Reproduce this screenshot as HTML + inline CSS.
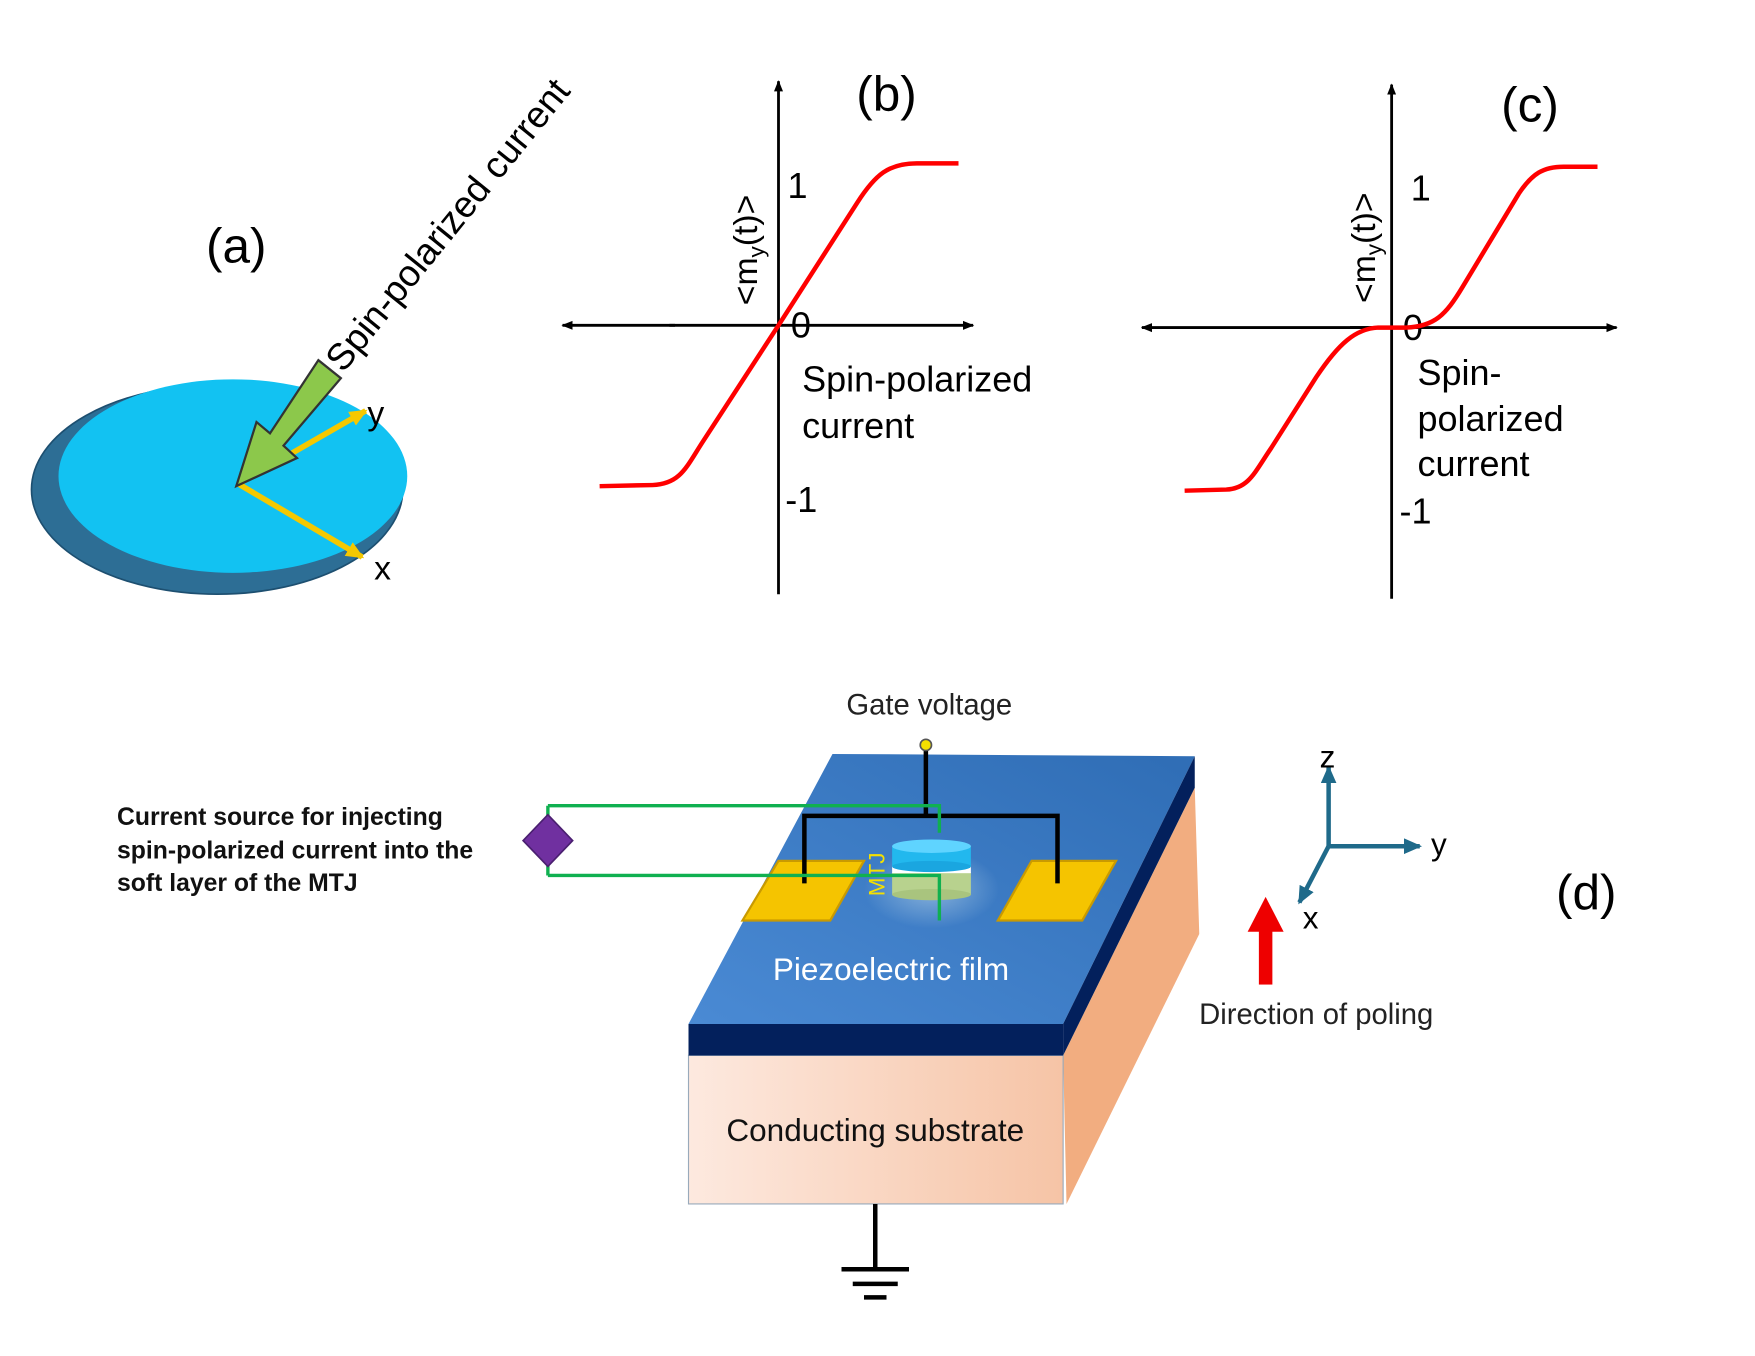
<!DOCTYPE html>
<html><head><meta charset="utf-8"><style>html,body{margin:0;padding:0;background:#fff}svg{display:block}</style></head>
<body>
<svg width="1755" height="1356" viewBox="0 0 1560 1205" xmlns="http://www.w3.org/2000/svg" font-family="Liberation Sans, sans-serif">
<defs>
<marker id="ak" markerWidth="10" markerHeight="10" refX="9" refY="5" orient="auto" markerUnits="userSpaceOnUse"><path d="M0,1 L10,5 L0,9 Z" fill="#000"/></marker>
<marker id="ay" markerWidth="16" markerHeight="14" refX="14" refY="7" orient="auto" markerUnits="userSpaceOnUse"><path d="M0,0 L16,7 L0,14 Z" fill="#f5c800"/></marker>
<marker id="at" markerWidth="16" markerHeight="14" refX="14" refY="7" orient="auto" markerUnits="userSpaceOnUse"><path d="M0,0 L16,7 L0,14 Z" fill="#1f6a8a"/></marker>
<linearGradient id="top" x1="0" y1="1" x2="1" y2="0"><stop offset="0" stop-color="#4a8ad4"/><stop offset="1" stop-color="#2f6db5"/></linearGradient>
<linearGradient id="front" x1="0" y1="0" x2="1" y2="0"><stop offset="0" stop-color="#fde9df"/><stop offset="1" stop-color="#f6c4a6"/></linearGradient>
<radialGradient id="glow"><stop offset="0" stop-color="#9cc0e0" stop-opacity="0.8"/><stop offset="1" stop-color="#9cc0e0" stop-opacity="0"/></radialGradient>
</defs>
<!-- (a) -->
<text x="210" y="233" font-size="44" text-anchor="middle">(a)</text>
<ellipse cx="193" cy="435" rx="165" ry="93" fill="#2d6e95" stroke="#1d4f70" stroke-width="1.5"/>
<ellipse cx="207" cy="423" rx="155" ry="86" fill="#12c2f2"/>
<line x1="212" y1="430" x2="325" y2="365" stroke="#f5c800" stroke-width="5" marker-end="url(#ay)"/>
<line x1="212" y1="430" x2="322" y2="495" stroke="#f5c800" stroke-width="5" marker-end="url(#ay)"/>
<text x="334" y="377" font-size="30" text-anchor="middle">y</text>
<text x="340" y="515" font-size="30" text-anchor="middle">x</text>
<path d="M283,320 L303,336 L252,396 L264,407 L210,432 L228,375 L240,385 Z" fill="#8cc84b" stroke="#333" stroke-width="2"/>
<text transform="translate(305,332) rotate(-51)" font-size="33">Spin-polarized  current</text>
<!-- (b) -->
<line x1="692" y1="528" x2="692" y2="72" stroke="#000" stroke-width="2.5" marker-end="url(#ak)"/>
<line x1="595" y1="289" x2="865" y2="289" stroke="#000" stroke-width="2.5" marker-end="url(#ak)"/>
<line x1="600" y1="289" x2="500" y2="289" stroke="#000" stroke-width="2.5" marker-end="url(#ak)"/>
<text x="788" y="98" font-size="44" text-anchor="middle">(b)</text>
<text x="700" y="176" font-size="32">1</text>
<text x="703" y="300" font-size="32">0</text>
<text x="698" y="455" font-size="32">-1</text>
<text transform="translate(673,222) rotate(-90)" font-size="30" text-anchor="middle">&lt;m<tspan font-size="20" dy="6">y</tspan><tspan dy="-6">(t)&gt;</tspan></text>
<text x="713" y="348" font-size="32">Spin-polarized</text>
<text x="713" y="389" font-size="32">current</text>
<path d="M533,432 L580,431 C605,430 610,415 625,392 L692,289 L762,180 C778,155 790,145 815,145 L852,145" fill="none" stroke="#f00" stroke-width="4"/>
<!-- (c) -->
<line x1="1237" y1="532" x2="1237" y2="75" stroke="#000" stroke-width="2.5" marker-end="url(#ak)"/>
<line x1="1200" y1="291" x2="1437" y2="291" stroke="#000" stroke-width="2.5" marker-end="url(#ak)"/>
<line x1="1240" y1="291" x2="1015" y2="291" stroke="#000" stroke-width="2.5" marker-end="url(#ak)"/>
<text x="1360" y="108" font-size="44" text-anchor="middle">(c)</text>
<text x="1254" y="178" font-size="32">1</text>
<text x="1247" y="302" font-size="32">0</text>
<text x="1244" y="465" font-size="32">-1</text>
<text transform="translate(1222,220) rotate(-90)" font-size="30" text-anchor="middle">&lt;m<tspan font-size="20" dy="6">y</tspan><tspan dy="-6">(t)&gt;</tspan></text>
<text x="1260" y="342" font-size="32">Spin-</text>
<text x="1260" y="383" font-size="32">polarized</text>
<text x="1260" y="423" font-size="32">current</text>
<path d="M1053,436 L1090,435 C1110,434 1115,420 1130,398 L1170,335 C1190,305 1205,292 1225,291 L1250,291 C1275,290 1285,280 1300,255 L1350,172 C1362,154 1372,148 1390,148 L1420,148" fill="none" stroke="#f00" stroke-width="4"/>
<!-- (d) -->
<text x="1410" y="808" font-size="44" text-anchor="middle">(d)</text>
<polygon points="612,910 740,670 1062,672 945,910" fill="url(#top)"/>
<polygon points="945,938 1062,700 1066,830 948,1070" fill="#f2ad80"/>
<polygon points="612,938 945,938 945,1070 612,1070" fill="url(#front)" stroke="#9ab" stroke-width="1"/>
<polygon points="612,910 945,910 945,938 612,938" fill="#03205c"/>
<polygon points="945,910 1062,672 1062,700 945,938" fill="#03205c"/>
<text x="792" y="871" font-size="28" fill="#fff" text-anchor="middle">Piezoelectric film</text>
<text x="778" y="1014" font-size="28" fill="#111" text-anchor="middle">Conducting substrate</text>
<text x="826" y="635" font-size="26" fill="#222" text-anchor="middle">Gate voltage</text>
<ellipse cx="828" cy="790" rx="60" ry="35" fill="url(#glow)"/>
<polygon points="692,765 768,765 738,818 660,818" fill="#f5c400" stroke="#c99a00" stroke-width="2"/>
<polygon points="917,765 992,765 962,818 887,818" fill="#f5c400" stroke="#c99a00" stroke-width="2"/>
<rect x="793" y="775" width="70" height="20" fill="#b8d28e"/>
<ellipse cx="828" cy="795" rx="35" ry="5" fill="#a9c47e"/>
<rect x="793" y="770" width="70" height="6" fill="#fff"/>
<rect x="793" y="752" width="70" height="18" fill="#22b8ee"/>
<ellipse cx="828" cy="770" rx="35" ry="5" fill="#1aa6e0"/>
<ellipse cx="828" cy="752" rx="35" ry="6" fill="#5fd4ff"/>
<text transform="translate(786,777) rotate(-90)" font-size="20" fill="#f5e000" text-anchor="middle">MTJ</text>
<polyline points="715,785 715,725 940,725 940,785" fill="none" stroke="#000" stroke-width="4"/>
<line x1="823" y1="665" x2="823" y2="725" stroke="#000" stroke-width="4"/>
<circle cx="823" cy="662" r="5" fill="#f5e000" stroke="#555" stroke-width="1.5"/>
<polyline points="487,716 835,716 835,740" fill="none" stroke="#10b050" stroke-width="3"/>
<polyline points="487,778 835,778 835,818" fill="none" stroke="#10b050" stroke-width="3"/>
<line x1="487" y1="716" x2="487" y2="778" stroke="#10b050" stroke-width="3"/>
<polygon points="487,724 509,747 487,770 465,747" fill="#7030a0" stroke="#4a1f70" stroke-width="1.5"/>
<text font-size="22" font-weight="bold" fill="#111"><tspan x="104" y="733">Current source for injecting</tspan><tspan x="104" y="763">spin-polarized current into the</tspan><tspan x="104" y="792">soft layer of the MTJ</tspan></text>
<line x1="778" y1="1070" x2="778" y2="1128" stroke="#000" stroke-width="4"/>
<line x1="748" y1="1128" x2="808" y2="1128" stroke="#000" stroke-width="4"/>
<line x1="758" y1="1141" x2="798" y2="1141" stroke="#000" stroke-width="4"/>
<line x1="768" y1="1153" x2="788" y2="1153" stroke="#000" stroke-width="4"/>
<line x1="1181" y1="752" x2="1181" y2="682" stroke="#1f6a8a" stroke-width="4" marker-end="url(#at)"/>
<line x1="1181" y1="752" x2="1262" y2="752" stroke="#1f6a8a" stroke-width="4" marker-end="url(#at)"/>
<line x1="1181" y1="752" x2="1155" y2="802" stroke="#1f6a8a" stroke-width="4" marker-end="url(#at)"/>
<text x="1180" y="682" font-size="28" text-anchor="middle">z</text>
<text x="1279" y="760" font-size="28" text-anchor="middle">y</text>
<text x="1165" y="825" font-size="28" text-anchor="middle">x</text>
<rect x="1119" y="825" width="12" height="50" fill="#e00"/>
<polygon points="1109,828 1125,797 1141,828" fill="#e00"/>
<text x="1170" y="910" font-size="26" fill="#222" text-anchor="middle">Direction of poling</text>
</svg>
</body></html>
